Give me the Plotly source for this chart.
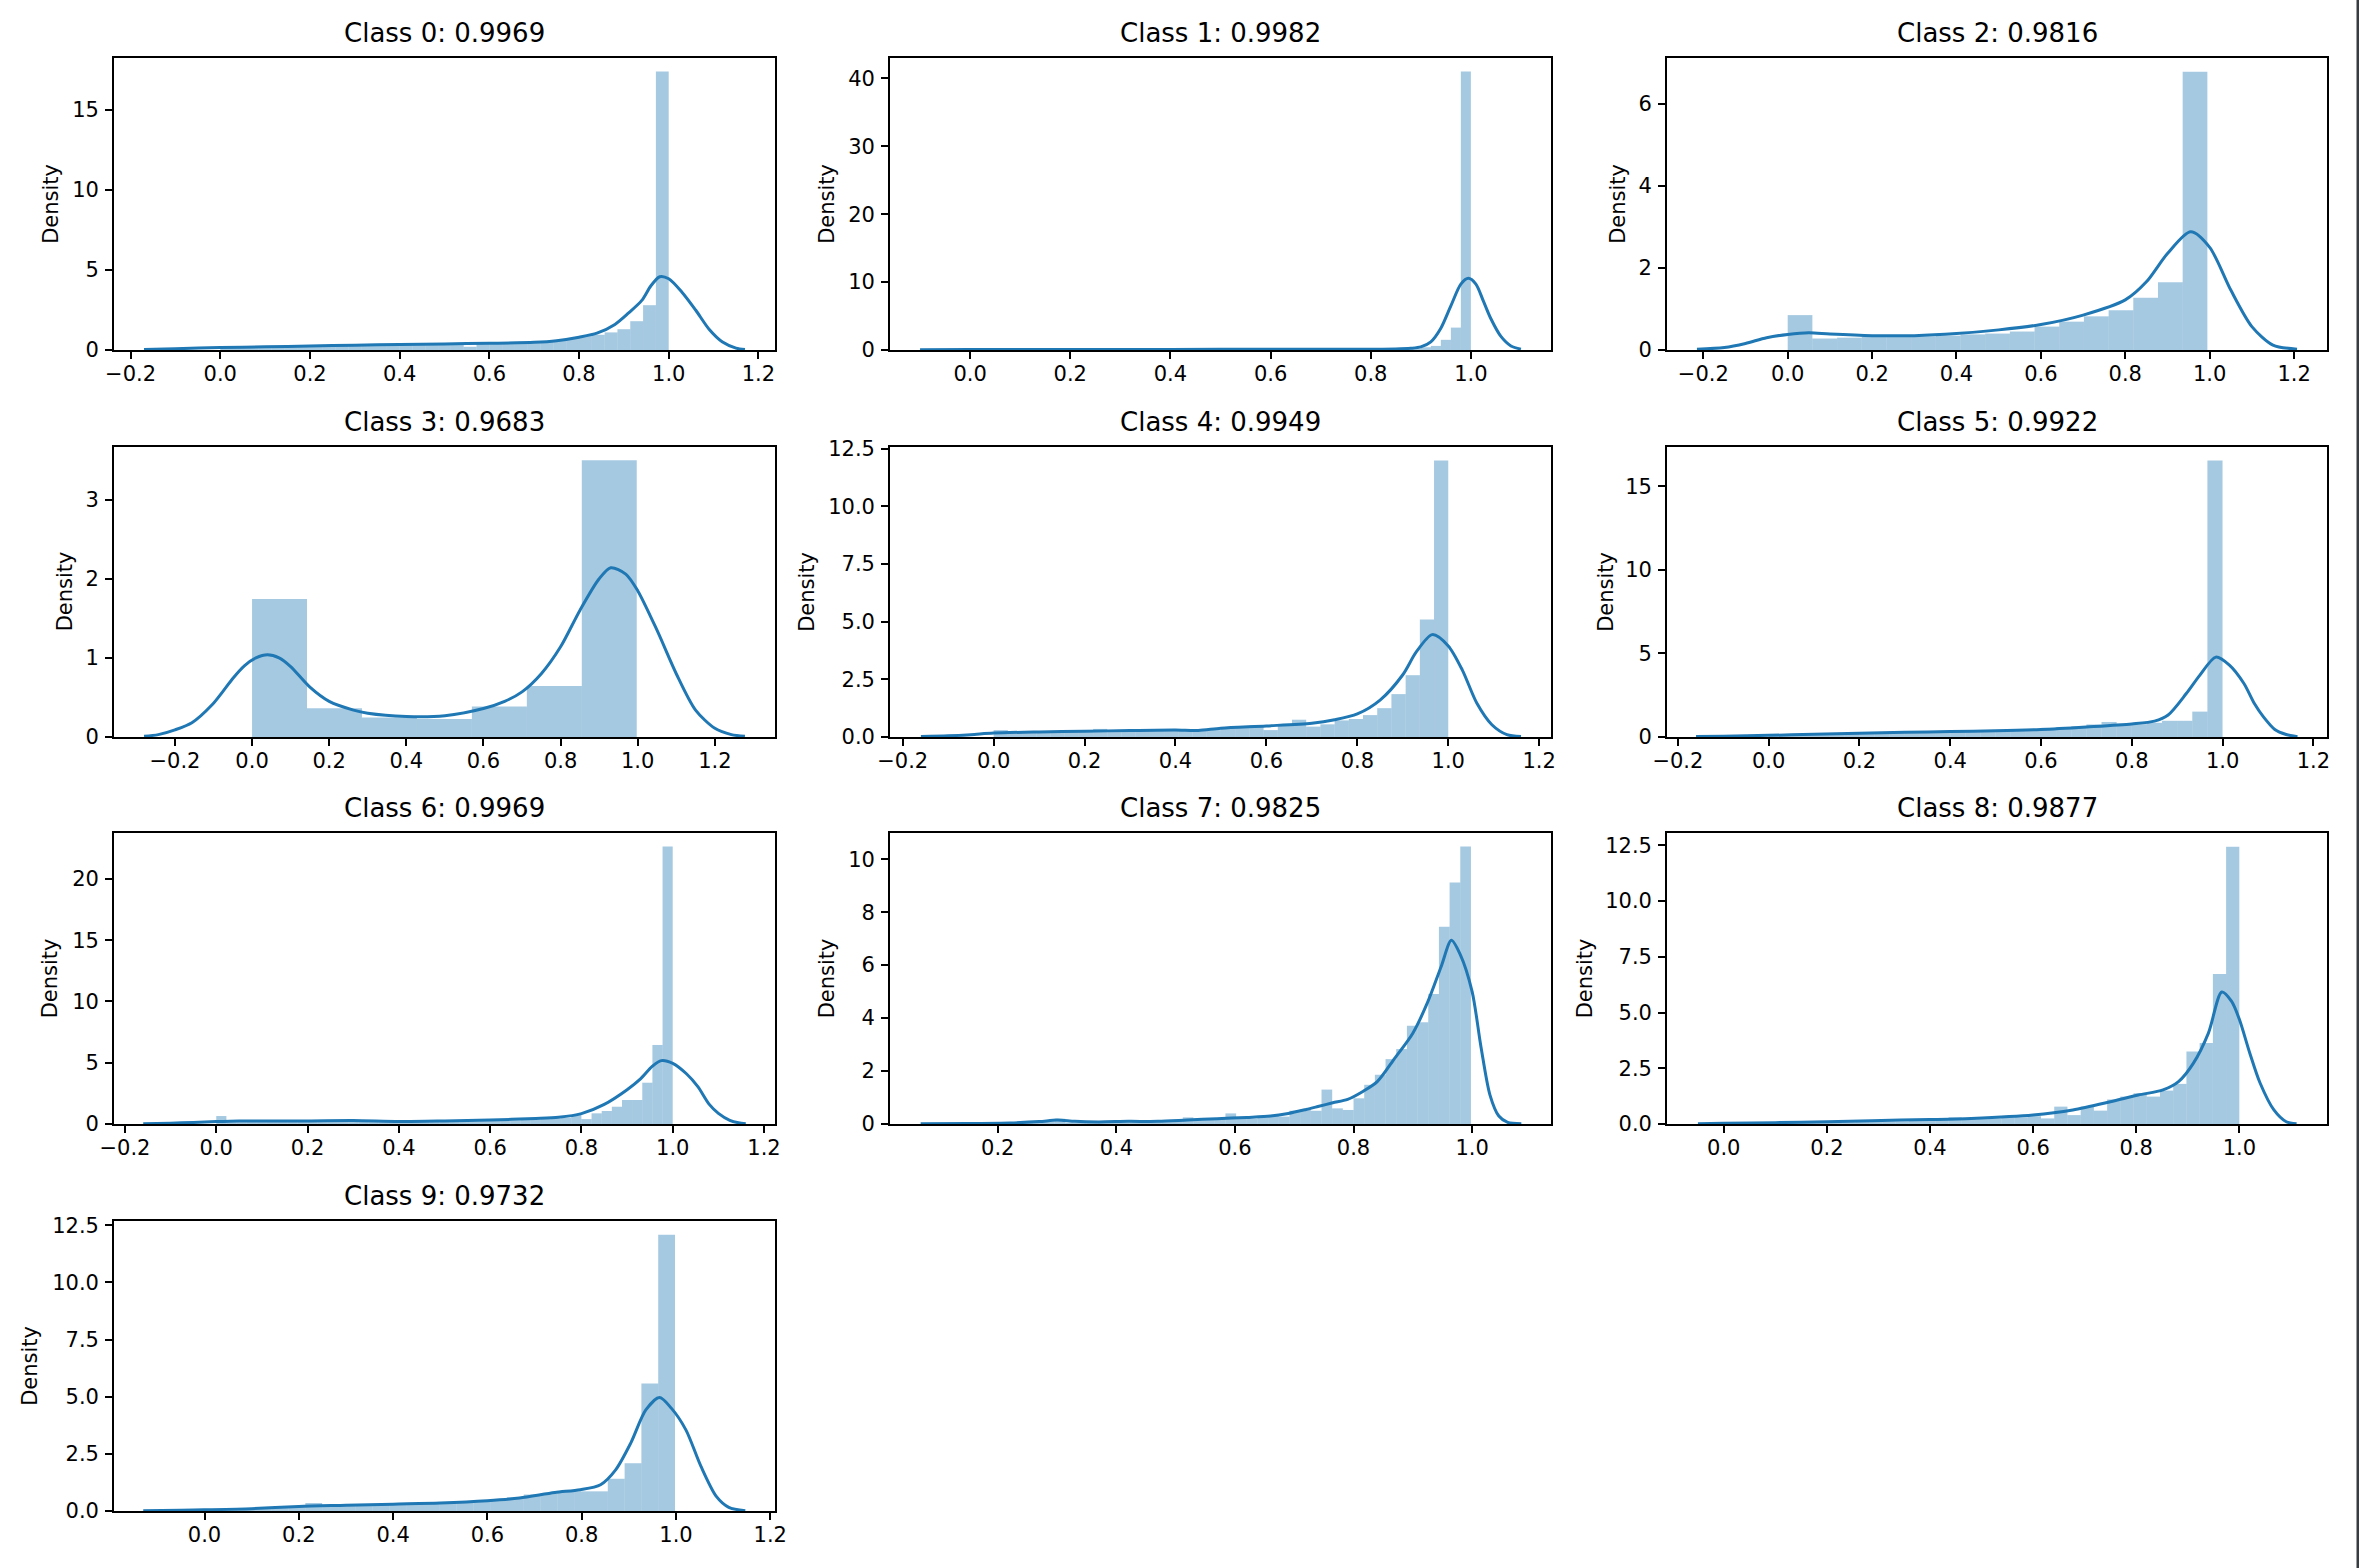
import plotly.graph_objects as go

# ---------------- data ----------------
titles = ["Class 0: 0.9969", "Class 1: 0.9982", "Class 2: 0.9816", "Class 3: 0.9683",
          "Class 4: 0.9949", "Class 5: 0.9922", "Class 6: 0.9969", "Class 7: 0.9825",
          "Class 8: 0.9877", "Class 9: 0.9732"]

# histogram: first bin edge, bin width, bar heights (density)
hist_start = [0.0, 0.0, 0.0, 0.0, 0.0, 0.0, 0.0, 0.134, 0.0, 0.0]
hist_width = [0.02857, 0.02, 0.0585, 0.1425, 0.03125, 0.03333, 0.02222, 0.018, 0.02564, 0.03564]

heights_c0 = [0.2, 0.18, 0.2, 0.22, 0.24, 0.25, 0.27, 0.28, 0.3, 0.3, 0.32, 0.33, 0.35, 0.36,
              0.38, 0.38, 0.4, 0.4, 0.42, 0.2, 0.42, 0.44, 0.45, 0.48, 0.5, 0.55, 0.62, 0.75,
              0.85, 0.95, 1.1, 1.3, 1.8, 2.8, 17.4]
heights_c1 = [0.06] * 25 + [0.07] * 15 + [0.1, 0.12, 0.15, 0.2, 0.25, 0.4, 0.6, 1.5, 3.3, 41.0]
heights_c2 = [0.85, 0.28, 0.3, 0.32, 0.33, 0.33, 0.35, 0.38, 0.4, 0.45, 0.57, 0.69, 0.82,
              0.97, 1.27, 1.65, 6.78]
heights_c3 = [1.745, 0.364, 0.247, 0.226, 0.385, 0.644, 3.50]
heights_c4 = [0.3, 0.2, 0.2, 0.2, 0.2, 0.22, 0.22, 0.35, 0.25, 0.25, 0.28, 0.3, 0.3, 0.3, 0.28,
              0.3, 0.42, 0.48, 0.5, 0.3, 0.55, 0.75, 0.45, 0.55, 0.72, 0.78, 0.95, 1.25, 1.86,
              2.68, 5.1, 11.99]
heights_c5 = [0.12, 0.12, 0.15, 0.15, 0.18, 0.2, 0.22, 0.25, 0.28, 0.3, 0.35, 0.35, 0.35, 0.35,
              0.35, 0.38, 0.42, 0.48, 0.55, 0.6, 0.65, 0.75, 0.9, 0.8, 0.77, 0.85, 0.97, 0.97,
              1.52, 16.54]
heights_c6 = [0.65, 0.15, 0.15, 0.16, 0.16, 0.17, 0.17, 0.17, 0.18, 0.18, 0.18, 0.18, 0.18,
              0.18, 0.17, 0.16, 0.15, 0.15, 0.16, 0.17, 0.18, 0.18, 0.19, 0.2, 0.21, 0.22, 0.24,
              0.26, 0.28, 0.3, 0.33, 0.36, 0.4, 0.45, 0.5, 0.73, 0.4, 0.87, 1.06, 1.41, 1.96,
              1.96, 3.37, 6.45, 22.64]
heights_c7 = [0.02, 0.02, 0.03, 0.03, 0.03, 0.04, 0.05, 0.08, 0.1, 0.2, 0.05, 0.05, 0.08, 0.1,
              0.08, 0.06, 0.15, 0.08, 0.1, 0.1, 0.12, 0.25, 0.15, 0.18, 0.2, 0.4, 0.22, 0.2,
              0.25, 0.3, 0.28, 0.5, 0.55, 0.5, 1.3, 0.59, 0.53, 0.97, 1.48, 1.86, 2.45, 2.83,
              3.71, 3.84, 4.91, 7.45, 9.12, 10.48]
heights_c8 = [0.05, 0.03, 0.04, 0.04, 0.05, 0.05, 0.06, 0.07, 0.08, 0.08, 0.1, 0.1, 0.12, 0.12,
              0.15, 0.15, 0.18, 0.3, 0.22, 0.22, 0.25, 0.28, 0.3, 0.35, 0.25, 0.78, 0.4, 0.78,
              0.6, 1.1, 1.23, 1.38, 1.23, 1.5, 1.8, 3.25, 3.63, 6.73, 12.44]
heights_c9 = [0.06, 0.08, 0.1, 0.12, 0.15, 0.2, 0.35, 0.25, 0.27, 0.28, 0.3, 0.3, 0.33, 0.35,
              0.38, 0.4, 0.45, 0.5, 0.6, 0.72, 0.78, 0.88, 0.86, 0.86, 1.41, 2.09, 5.58, 12.09]

# KDE curves (x, density)
kde_x_c0 = [-0.17, -0.1, 0.0, 0.1, 0.2, 0.3, 0.4, 0.5, 0.6, 0.7, 0.75, 0.8, 0.84, 0.88, 0.91,
            0.94, 0.96, 0.98, 1.0, 1.03, 1.06, 1.09, 1.12, 1.15, 1.17]
kde_y_c0 = [0.03, 0.08, 0.15, 0.2, 0.25, 0.3, 0.35, 0.38, 0.42, 0.48, 0.58, 0.8, 1.05, 1.6, 2.3,
            3.1, 4.0, 4.58, 4.45, 3.6, 2.5, 1.3, 0.5, 0.12, 0.03]
kde_x_c1 = [-0.1, 0.0, 0.2, 0.4, 0.6, 0.8, 0.85, 0.88, 0.9, 0.92, 0.94, 0.96, 0.98, 0.995,
            1.01, 1.025, 1.04, 1.06, 1.08, 1.1]
kde_y_c1 = [0.05, 0.07, 0.08, 0.09, 0.1, 0.12, 0.15, 0.25, 0.45, 1.2, 3.2, 6.5, 9.7, 10.55,
            9.7, 7.2, 4.6, 2.0, 0.6, 0.13]
kde_x_c2 = [-0.215, -0.15, -0.1, -0.05, 0.0, 0.05, 0.1, 0.2, 0.3, 0.4, 0.5, 0.6, 0.7, 0.8,
            0.85, 0.9, 0.955, 1.0, 1.05, 1.1, 1.15, 1.207]
kde_y_c2 = [0.02, 0.06, 0.16, 0.3, 0.38, 0.42, 0.39, 0.35, 0.35, 0.4, 0.49, 0.62, 0.85, 1.22,
            1.66, 2.35, 2.88, 2.5, 1.46, 0.57, 0.12, 0.02]
kde_x_c3 = [-0.28, -0.243, -0.2, -0.156, -0.103, -0.075, -0.05, -0.02, 0.01, 0.04, 0.07, 0.1,
            0.15, 0.2, 0.263, 0.3, 0.4, 0.5, 0.6, 0.655, 0.7, 0.75, 0.8, 0.85, 0.9, 0.93, 0.969,
            1.0, 1.05, 1.1, 1.15, 1.2, 1.243, 1.278]
kde_y_c3 = [0.01, 0.03, 0.09, 0.18, 0.41, 0.58, 0.74, 0.9, 1.0, 1.04, 1.0, 0.89, 0.63, 0.45,
            0.34, 0.3, 0.26, 0.27, 0.36, 0.45, 0.57, 0.8, 1.14, 1.6, 2.0, 2.14, 2.06, 1.85,
            1.35, 0.8, 0.34, 0.11, 0.03, 0.01]
kde_x_c4 = [-0.16, -0.1, -0.05, 0.0, 0.1, 0.2, 0.3, 0.4, 0.45, 0.5, 0.6, 0.7, 0.75, 0.8, 0.85,
            0.9, 0.93, 0.965, 1.0, 1.031, 1.063, 1.096, 1.129, 1.16]
kde_y_c4 = [0.02, 0.05, 0.1, 0.17, 0.22, 0.25, 0.28, 0.3, 0.28, 0.38, 0.48, 0.6, 0.75, 1.0,
            1.6, 2.7, 3.7, 4.44, 3.95, 2.9, 1.46, 0.53, 0.1, 0.02]
kde_x_c5 = [-0.16, -0.1, 0.0, 0.1, 0.2, 0.3, 0.4, 0.5, 0.6, 0.7, 0.8, 0.85, 0.88, 0.92, 0.95,
            0.985, 1.015, 1.047, 1.07, 1.09, 1.115, 1.14, 1.165]
kde_y_c5 = [0.03, 0.05, 0.1, 0.16, 0.22, 0.28, 0.33, 0.37, 0.45, 0.6, 0.78, 0.95, 1.32, 2.6,
            3.7, 4.78, 4.3, 3.2, 2.0, 1.2, 0.45, 0.15, 0.02]
kde_x_c6 = [-0.16, -0.1, -0.05, 0.0, 0.05, 0.1, 0.2, 0.3, 0.4, 0.5, 0.6, 0.7, 0.75, 0.8, 0.85,
            0.9, 0.93, 0.955, 0.975, 1.0, 1.03, 1.055, 1.08, 1.1, 1.125, 1.144, 1.16]
kde_y_c6 = [0.03, 0.07, 0.13, 0.2, 0.25, 0.25, 0.25, 0.28, 0.2, 0.25, 0.33, 0.45, 0.55, 0.85,
            1.6, 2.8, 3.7, 4.7, 5.17, 4.95, 4.1, 3.05, 1.6, 0.87, 0.3, 0.1, 0.03]
kde_x_c7 = [0.07, 0.15, 0.22, 0.27, 0.3, 0.33, 0.37, 0.42, 0.47, 0.52, 0.57, 0.62, 0.66, 0.69,
            0.72, 0.74, 0.765, 0.79, 0.815, 0.84, 0.87, 0.9, 0.925, 0.948, 0.965, 0.98, 1.0,
            1.015, 1.03, 1.045, 1.06, 1.083]
kde_y_c7 = [0.01, 0.02, 0.04, 0.09, 0.15, 0.1, 0.08, 0.1, 0.1, 0.15, 0.2, 0.25, 0.3, 0.4,
            0.55, 0.66, 0.8, 0.93, 1.22, 1.6, 2.5, 3.43, 4.6, 5.96, 6.94, 6.4, 5.0, 2.9, 1.1,
            0.3, 0.06, 0.01]
kde_x_c8 = [-0.05, 0.0, 0.1, 0.2, 0.287, 0.4, 0.48, 0.6, 0.677, 0.75, 0.804, 0.852, 0.882,
            0.911, 0.94, 0.966, 0.985, 1.0, 1.02, 1.04, 1.067, 1.091, 1.111]
kde_y_c8 = [0.01, 0.03, 0.06, 0.1, 0.15, 0.2, 0.25, 0.4, 0.63, 1.0, 1.3, 1.53, 1.9, 2.73,
            4.08, 5.92, 5.5, 4.7, 3.2, 1.85, 0.63, 0.1, 0.01]
kde_x_c9 = [-0.13, -0.05, 0.0, 0.1, 0.2, 0.3, 0.4, 0.5, 0.6, 0.668, 0.743, 0.797, 0.84, 0.872,
            0.904, 0.936, 0.965, 0.99, 1.021, 1.053, 1.0855, 1.112, 1.147]
kde_y_c9 = [0.01, 0.03, 0.05, 0.1, 0.2, 0.25, 0.3, 0.35, 0.45, 0.57, 0.81, 0.93, 1.15, 1.8,
            2.97, 4.42, 4.96, 4.5, 3.55, 1.95, 0.64, 0.16, 0.01]

hist_heights = [heights_c0, heights_c1, heights_c2, heights_c3, heights_c4,
                heights_c5, heights_c6, heights_c7, heights_c8, heights_c9]
kde_xs = [kde_x_c0, kde_x_c1, kde_x_c2, kde_x_c3, kde_x_c4,
          kde_x_c5, kde_x_c6, kde_x_c7, kde_x_c8, kde_x_c9]
kde_ys = [kde_y_c0, kde_y_c1, kde_y_c2, kde_y_c3, kde_y_c4,
          kde_y_c5, kde_y_c6, kde_y_c7, kde_y_c8, kde_y_c9]

# ---------------- layout / styling ----------------
W, H = 2359, 1568
x_ranges = [[-0.237, 1.237], [-0.16, 1.16], [-0.286, 1.278], [-0.358, 1.356], [-0.228, 1.226],
            [-0.224, 1.23], [-0.224, 1.224], [0.0183, 1.133], [-0.11, 1.17], [-0.192, 1.21]]
y_ranges = [[0, 18.27], [0, 43.05], [0, 7.12], [0, 3.67], [0, 12.59],
            [0, 17.37], [0, 23.77], [0, 11.0], [0, 13.07], [0, 12.7]]
y_dticks = [5, 10, 2, 1, 2.5, 5, 5, 2, 2.5, 2.5]

col_px = [(114, 775), (890, 1551), (1667, 2327)]
row_px = [(57.7, 350), (446.7, 737), (832.7, 1124), (1220.7, 1511)]
density_label_x = [51, 827, 1618, 64.5, 807, 1606, 50, 827, 1585, 30]

BLUE = "#1f77b4"
BAR = "rgba(31,119,180,0.4)"
FONT = "DejaVu Sans"

fig = go.Figure()
annotations = []
for k in range(10):
    r, c = divmod(k, 3)
    sfx = "" if k == 0 else str(k + 1)
    xa, ya = "x" + sfx, "y" + sfx
    st, wd, hs = hist_start[k], hist_width[k], hist_heights[k]
    centers = [st + (i + 0.5) * wd for i in range(len(hs))]
    fig.add_trace(go.Bar(x=centers, y=hs, width=wd, marker=dict(color=BAR, line=dict(width=0)),
                         xaxis=xa, yaxis=ya, showlegend=False))
    fig.add_trace(go.Scatter(x=kde_xs[k], y=kde_ys[k], mode="lines",
                             line=dict(color=BLUE, width=3, shape="spline", smoothing=0.8),
                             xaxis=xa, yaxis=ya, showlegend=False))
    x0, x1 = col_px[c][0] / W, col_px[c][1] / W
    y0, y1 = 1 - row_px[r][1] / H, 1 - row_px[r][0] / H
    common = dict(showline=True, mirror=True, linecolor="black", linewidth=1.7,
                  ticks="outside", ticklen=7, tickwidth=1.7, tickcolor="black",
                  showgrid=False, zeroline=False, automargin=False,
                  tickfont=dict(family=FONT, size=21, color="black"))
    fig.update_layout(**{
        "xaxis" + sfx: dict(domain=[x0, x1], range=x_ranges[k], anchor=ya,
                            tick0=0, dtick=0.2, tickformat=".1f", ticklabelstandoff=-3, **common),
        "yaxis" + sfx: dict(domain=[y0, y1], range=y_ranges[k], anchor=xa,
                            tick0=0, dtick=y_dticks[k],
                            tickformat=".1f" if y_dticks[k] == 2.5 else "d",
                            ticklabelstandoff=2, **common),
    })
    annotations.append(dict(text=titles[k], x=(x0 + x1) / 2, y=y1, xref="paper", yref="paper",
                            xanchor="center", yanchor="bottom", yshift=8, showarrow=False,
                            font=dict(family=FONT, size=26, color="black")))
    annotations.append(dict(text="Density", x=density_label_x[k] / W, y=(y0 + y1) / 2,
                            xref="paper", yref="paper", xanchor="center", yanchor="middle",
                            textangle=-90, showarrow=False,
                            font=dict(family=FONT, size=21, color="black")))

# dark strip along the right edge of the original image
shapes = [dict(type="rect", xref="paper", yref="paper", x0=2356.5 / W, x1=1.0, y0=0, y1=1,
               fillcolor="#383c40", line=dict(width=0), layer="above")]

fig.update_layout(template="none", width=W, height=H, margin=dict(l=0, r=0, t=0, b=0),
                  paper_bgcolor="white", plot_bgcolor="white", barmode="overlay",
                  annotations=annotations, shapes=shapes, font=dict(family=FONT))
fig.write_html("out.html", config={"displayModeBar": False},
               post_script="document.body.style.margin='0px';document.body.style.overflow='hidden';")
